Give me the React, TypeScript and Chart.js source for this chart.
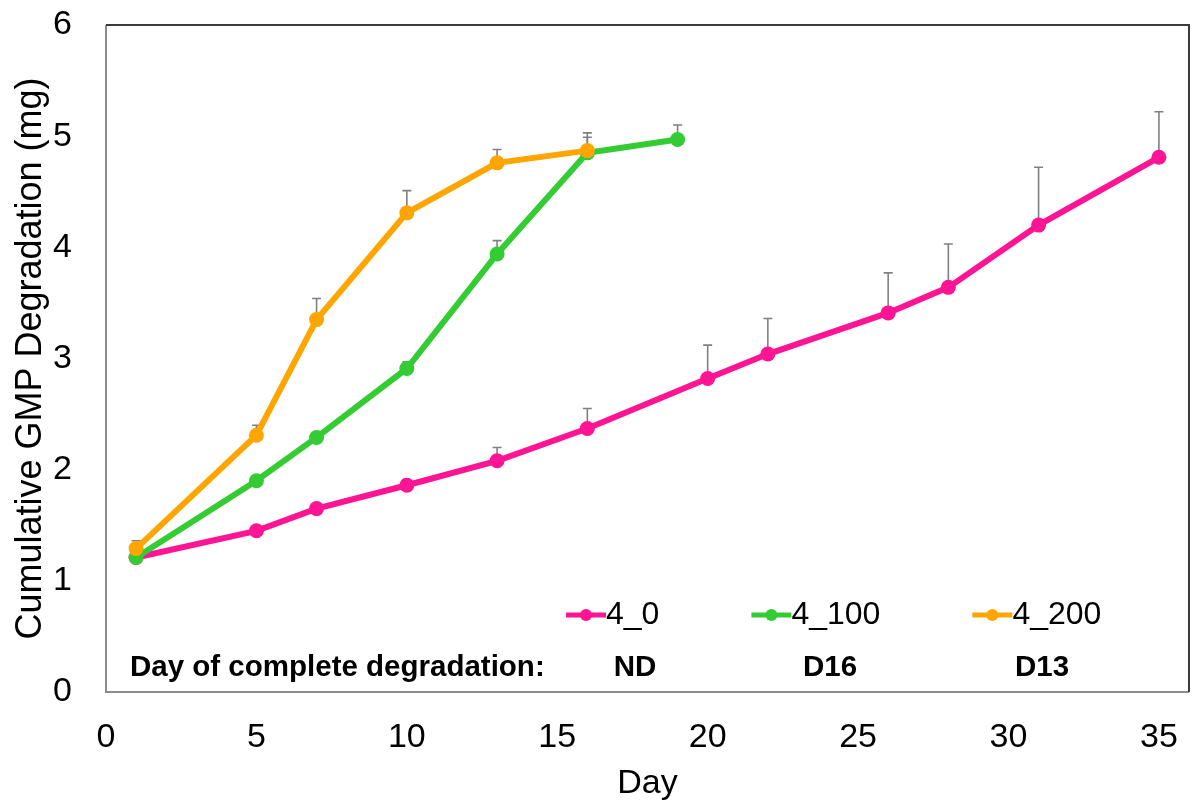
import React, { useEffect, useRef } from "react";
import { Chart, registerables } from "chart.js";

Chart.register(...registerables);

// ---- data ----
const seriesLabels = ["4_0", "4_100", "4_200"];
const seriesColors = ["#FF1493", "#33CC33", "#FFA500"];

const days4_0 = [1, 5, 7, 10, 13, 16, 20, 22, 26, 28, 31, 35];
const vals4_0 = [1.21, 1.45, 1.65, 1.86, 2.08, 2.37, 2.82, 3.04, 3.41, 3.64, 4.2, 4.81];
const err4_0 = [0.02, 0.02, 0.03, 0.05, 0.12, 0.18, 0.3, 0.32, 0.36, 0.39, 0.52, 0.41];

const days4_100 = [1, 5, 7, 10, 13, 16, 19];
const vals4_100 = [1.21, 1.9, 2.29, 2.91, 3.94, 4.85, 4.97];
const err4_100 = [0.01, 0.02, 0.02, 0.06, 0.12, 0.14, 0.13];

const days4_200 = [1, 5, 7, 10, 13, 16];
const vals4_200 = [1.29, 2.31, 3.35, 4.31, 4.76, 4.87];
const err4_200 = [0.07, 0.09, 0.19, 0.2, 0.12, 0.16];

const xTicks = [0, 5, 10, 15, 20, 25, 30, 35];
const yTicks = [0, 1, 2, 3, 4, 5, 6];

const completeLabel = "Day of complete degradation:";
const completeDays = ["ND", "D16", "D13"];

const xTitle = "Day";
const yTitle = "Cumulative GMP Degradation (mg)";

const FONT = "Arial, 'Liberation Sans', sans-serif";

const allDays = [days4_0, days4_100, days4_200];
const allVals = [vals4_0, vals4_100, vals4_200];
const allErr = [err4_0, err4_100, err4_200];

const errorBarPlugin = {
  id: "errorBars",
  beforeDatasetsDraw(chart: any) {
    const { ctx, scales } = chart;
    const xs = scales.x;
    const ys = scales.y;
    ctx.save();
    ctx.strokeStyle = "#808080";
    ctx.lineWidth = 1.6;
    allDays.forEach((days, si) => {
      days.forEach((d, i) => {
        const v = allVals[si][i];
        const e = allErr[si][i];
        const px = xs.getPixelForValue(d);
        const py = ys.getPixelForValue(v);
        const pt = ys.getPixelForValue(v + e);
        ctx.beginPath();
        ctx.moveTo(px, py);
        ctx.lineTo(px, pt);
        ctx.moveTo(px - 4.5, pt);
        ctx.lineTo(px + 4.5, pt);
        ctx.stroke();
      });
    });
    ctx.restore();
  },
};

const framePlugin = {
  id: "frameAndLegend",
  afterDraw(chart: any) {
    const { ctx, chartArea } = chart;
    const { left, right, top, bottom } = chartArea;
    ctx.save();
    // frame
    ctx.lineWidth = 2;
    ctx.strokeStyle = "#8c8c8c";
    ctx.beginPath();
    ctx.moveTo(left, top);
    ctx.lineTo(left, bottom);
    ctx.lineTo(right, bottom);
    ctx.stroke();
    ctx.strokeStyle = "#3a3a3a";
    ctx.beginPath();
    ctx.moveTo(left, top);
    ctx.lineTo(right, top);
    ctx.lineTo(right, bottom);
    ctx.stroke();

    // legend
    ctx.font = `32px ${FONT}`;
    ctx.textBaseline = "middle";
    ctx.textAlign = "left";
    let lx = left + 460;
    const ly = bottom - 77;
    seriesLabels.forEach((lab, i) => {
      ctx.strokeStyle = seriesColors[i];
      ctx.fillStyle = seriesColors[i];
      ctx.lineWidth = 5;
      ctx.beginPath();
      ctx.moveTo(lx, ly);
      ctx.lineTo(lx + 40, ly);
      ctx.stroke();
      ctx.beginPath();
      ctx.arc(lx + 20, ly, 6, 0, Math.PI * 2);
      ctx.fill();
      ctx.fillStyle = "#000";
      ctx.fillText(lab, lx + 40, ly);
      lx += 40 + ctx.measureText(lab).width + 92;
    });

    // complete degradation row
    const ry = bottom - 24;
    ctx.font = `bold 29.5px ${FONT}`;
    ctx.fillStyle = "#000";
    ctx.textAlign = "left";
    ctx.fillText(completeLabel, left + 24, ry);
    ctx.textAlign = "center";
    const centers = [left + 529, left + 724, left + 936];
    completeDays.forEach((t, i) => ctx.fillText(t, centers[i], ry));
    ctx.restore();
  },
};

export default function App() {
  const ref = useRef<HTMLCanvasElement>(null);
  useEffect(() => {
    const canvas = ref.current!;
    const datasets = allDays.map((days, si) => ({
      label: seriesLabels[si],
      data: days.map((d, i) => ({ x: d, y: allVals[si][i] })),
      borderColor: seriesColors[si],
      backgroundColor: seriesColors[si],
      pointBackgroundColor: seriesColors[si],
      pointBorderColor: seriesColors[si],
      borderWidth: 6,
      pointRadius: 7.5,
      pointBorderWidth: 0,
      tension: 0,
      order: 3 - si,
    }));
    const chart = new Chart(canvas, {
      type: "line",
      data: { datasets },
      options: {
        animation: false,
        responsive: false,
        devicePixelRatio: 1,
        layout: { padding: { top: 25, right: 9, left: 0, bottom: 0 } },
        plugins: { legend: { display: false }, tooltip: { enabled: false } },
        scales: {
          x: {
            type: "linear",
            min: 0,
            max: 36,
            grid: { display: false, drawTicks: false },
            border: { display: false },
            afterBuildTicks: (s: any) => {
              s.ticks = xTicks.map((v) => ({ value: v }));
            },
            afterFit: (s: any) => {
              s.height = 115;
              s.paddingLeft = 0;
              s.paddingRight = 0;
              s.paddingTop = 0;
              s.paddingBottom = 0;
            },
            ticks: {
              color: "#000",
              font: { family: FONT, size: 34 },
              padding: 25,
              maxRotation: 0,
              autoSkip: false,
            },
            title: {
              display: true,
              text: xTitle,
              color: "#000",
              font: { family: FONT, size: 34 },
              padding: 3,
            },
          },
          y: {
            type: "linear",
            min: 0,
            max: 6,
            grid: { display: false, drawTicks: false },
            border: { display: false },
            afterBuildTicks: (s: any) => {
              s.ticks = yTicks.map((v) => ({ value: v }));
            },
            afterFit: (s: any) => {
              s.width = 106;
              s.paddingLeft = 0;
              s.paddingRight = 0;
              s.paddingTop = 0;
              s.paddingBottom = 0;
            },
            ticks: {
              color: "#000",
              font: { family: FONT, size: 34 },
              padding: 34,
            },
            title: {
              display: true,
              text: yTitle,
              color: "#000",
              font: { family: FONT, size: 36 },
              padding: 9,
            },
          },
        },
      },
      plugins: [errorBarPlugin, framePlugin],
    } as any);
    return () => chart.destroy();
  }, []);
  return (
    <div style={{ position: "absolute", left: 0, top: 0, width: 1198, height: 807, background: "#fff" }}>
      <canvas ref={ref} width={1198} height={807} style={{ display: "block" }} />
    </div>
  );
}
